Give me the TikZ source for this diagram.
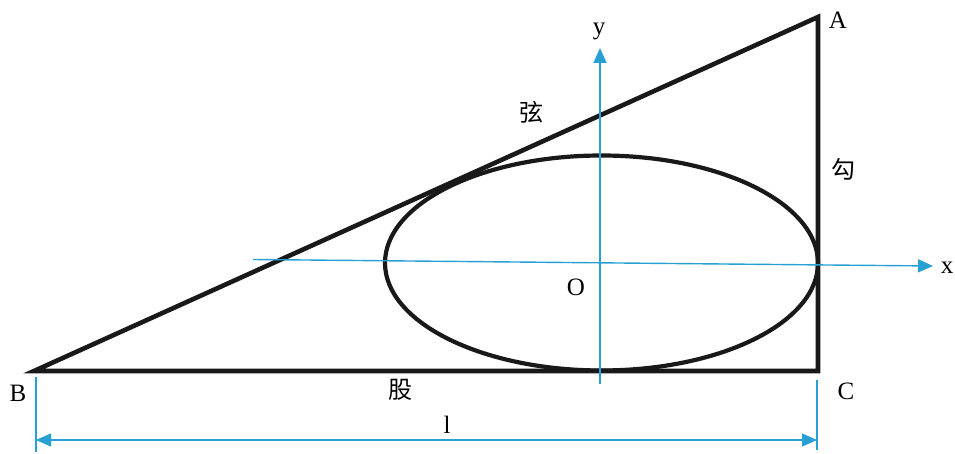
\documentclass[tikz,border=0pt]{standalone}
\usepackage{fontspec}
\setmainfont{Liberation Serif}
\newfontfamily\cjk{Noto Sans CJK SC}
\usetikzlibrary{arrows.meta}
\definecolor{axisblue}{RGB}{40,160,212}
\tikzset{
  tri/.style={line width=4.6pt, line join=miter, draw=black!90},
  ell/.style={line width=4.2pt, draw=black!90},
  axis/.style={line width=1.4pt, draw=axisblue, -{Triangle[length=15pt,width=13pt]}},
  dim/.style={line width=1.4pt, draw=axisblue, {Triangle[length=15pt,width=13pt]}-{Triangle[length=15pt,width=13pt]}},
  ext/.style={line width=1.2pt, draw=axisblue},
  lab/.style={font=\fontsize{25}{25}\selectfont, inner sep=0pt},
  clab/.style={font=\cjk\fontsize{24}{24}\selectfont, inner sep=0pt}
}
\begin{document}
\begin{tikzpicture}[x=1pt,y=-1pt]
\useasboundingbox (0,0) rectangle (955,454);
\coordinate (B) at (34,371);
\coordinate (C) at (818,371);
\coordinate (A) at (818,17);
\coordinate (Oc) at (601.5,263);
\coordinate (xs) at (253,259.5);
\coordinate (xe) at (933,266);
\coordinate (ys) at (600,384);
\coordinate (ye) at (600,48);
\coordinate (Bt) at (36,377);
\coordinate (Bb) at (36,452);
\coordinate (Ct) at (817,380);
\coordinate (Cb) at (817,450);
\coordinate (Dl) at (36,440);
\coordinate (Dr) at (817,440);
% ellipse
\draw[ell] (Oc) ellipse [x radius=216.5, y radius=107.5];
% triangle
\draw[tri] (B) -- (C) -- (A) -- cycle;
% axes
\draw[axis] (xs) -- (xe);
\draw[axis] (ys) -- (ye);
% dimension
\draw[ext] (Bt) -- (Bb);
\draw[ext] (Ct) -- (Cb);
\draw[dim] (Dl) -- (Dr);
% labels
\node[lab] (lA) at (838,20) {A};
\node[lab] (lB) at (18,393) {B};
\node[lab] (lC) at (846,391) {C};
\node[lab] (lx) at (947,268) {x};
\node[lab] (ly) at (599,31) {y};
\node[lab] (lO) at (576,287) {O};
\node[lab] (ll) at (447,425) {l};
\node[clab] (xian) at (531,112) {弦};
\node[clab] (gou) at (843,169) {勾};
\node[clab] (gu) at (400,390) {股};
\end{tikzpicture}
\end{document}
